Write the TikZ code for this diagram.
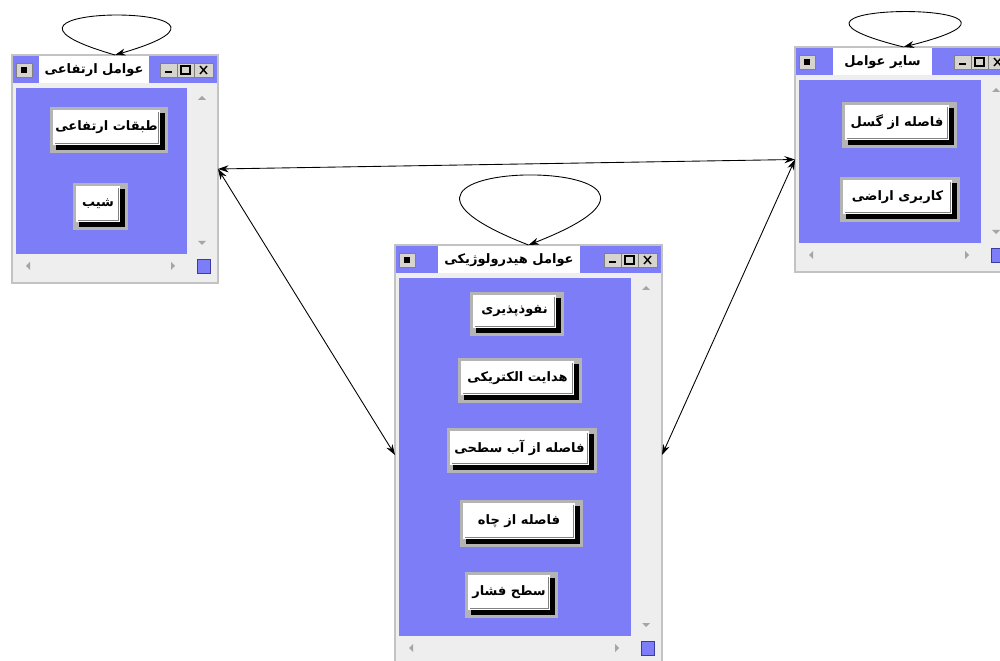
\documentclass[tikz,border=0pt]{standalone}
\usepackage{fontspec}
\newfontfamily\fa[Script=Arabic]{DejaVu Sans}
\TeXXeTstate=1
\usetikzlibrary{arrows.meta,calc}
\definecolor{winblue}{RGB}{125,126,247}
\definecolor{framegray}{RGB}{195,195,195}
\definecolor{scrollbg}{RGB}{238,238,238}
\definecolor{btnbord}{RGB}{180,180,180}
\definecolor{ctlgray}{RGB}{215,212,205}
\definecolor{trigray}{RGB}{165,165,165}
\definecolor{darkblue}{RGB}{60,60,160}
\tikzset{
  lbl/.style={font=\fa\bfseries\fontsize{7.4}{9}\selectfont, inner sep=0pt, text=black},
  winframe/.style={draw=framegray, fill=scrollbg, line width=1.2pt, outer sep=0pt, inner sep=0pt, anchor=north west},
  conn/.style={{Stealth[length=6pt,width=4pt]}-{Stealth[length=6pt,width=4pt]}, line width=0.5pt},
  loopc/.style={-{Stealth[length=6pt,width=4pt]}, line width=0.5pt},
  ctl/.style={fill=ctlgray, draw=gray, line width=0.4pt},
}
% window: name, x1, y1, x2, y2, title x1, title x2, title
\newcommand\pwindow[8]{%
  \node[winframe, minimum width={(#4-#2)*0.02cm}, minimum height={(#5-#3)*0.02cm}] (#1) at (#2,#3) {};
  \fill[winblue] ({#2+1},{#3+1}) rectangle ({#4-1},{#3+28});
  \fill[ctl] ({#2+4},{#3+8}) rectangle ({#2+20},{#3+22});
  \fill[black] ({#2+9},{#3+12}) rectangle ({#2+15},{#3+18});
  \fill[white] (#6,{#3+1}) rectangle (#7,{#3+28});
  \node[lbl] (#1t) at ({(#6+#7)/2},{#3+15}) {#8};
  \filldraw[ctl] ({#4-58},{#3+8}) rectangle ({#4-41},{#3+22});
  \filldraw[ctl] ({#4-41},{#3+8}) rectangle ({#4-24},{#3+22});
  \filldraw[ctl] ({#4-24},{#3+8}) rectangle ({#4-5},{#3+22});
  \fill[black] ({#4-53},{#3+16}) rectangle ({#4-46},{#3+18});
  \draw[black, line width=0.6pt] ({#4-37},{#3+11}) rectangle ({#4-28},{#3+19});
  \draw[black, line width=1pt] ({#4-37},{#3+11.5}) -- ({#4-28},{#3+11.5});
  \draw[black, line width=0.8pt] ({#4-18},{#3+11}) -- ({#4-11},{#3+19}) ({#4-18},{#3+19}) -- ({#4-11},{#3+11});
  \fill[winblue] ({#2+4},{#3+33}) rectangle ({#4-31},{#5-29});
  \fill[trigray] ({#4-20},{#3+45}) -- ({#4-12},{#3+45}) -- ({#4-16},{#3+41}) -- cycle;
  \fill[trigray] ({#4-20},{#5-42}) -- ({#4-12},{#5-42}) -- ({#4-16},{#5-38}) -- cycle;
  \fill[trigray] ({#2+18},{#5-21}) -- ({#2+18},{#5-13}) -- ({#2+14},{#5-17}) -- cycle;
  \fill[trigray] ({#4-47},{#5-21}) -- ({#4-47},{#5-13}) -- ({#4-43},{#5-17}) -- cycle;
  \filldraw[fill=winblue, draw=darkblue, line width=0.4pt] ({#4-21},{#5-24}) rectangle ({#4-8},{#5-10});
}
% button: name, x1, y1, x2, y2, text
\newcommand\pbutton[6]{%
  \fill[btnbord] (#2,#3) rectangle (#4,#5);
  \fill[black] ({#2+6},{#3+6}) rectangle ({#4-3},{#5-3});
  \fill[white] ({#2+3},{#3+3}) rectangle ({#4-8},{#5-8});
  \draw[gray, line width=0.5pt] ({#4-10},{#3+5}) -- ({#4-10},{#5-10}) -- ({#2+5},{#5-10});
  \node[lbl] (#1) at ({(#2+#4)/2-2.5},{(#3+#5)/2-2.5}) {#6};
}
\begin{document}
\begin{tikzpicture}[x=0.02cm,y=-0.02cm]
\clip (0,0) rectangle (1000,661);
\fill[white] (0,0) rectangle (1000,661);
\useasboundingbox (0,0) rectangle (1000,661);

\pwindow{w1}{12}{55}{218}{283}{39}{149}{\beginR عوامل ارتفاعی\endR}
\pbutton{b11}{50}{107}{168}{153}{\beginR طبقات ارتفاعی\endR}
\pbutton{b12}{73}{183}{128}{230}{\beginR شیب\endR}

\pwindow{w2}{795}{47}{1012}{272}{833}{932}{\beginR سایر عوامل\endR}
\pbutton{b21}{842}{102}{957}{148}{\beginR فاصله از گسل\endR}
\pbutton{b22}{840}{177}{960}{222}{\beginR کاربری اراضی\endR}

\pwindow{w3}{395}{245}{662}{665}{438}{580}{\beginR عوامل هیدرولوژیکی\endR}
\pbutton{b31}{470}{292}{564}{336}{\beginR نفوذپذیری\endR}
\pbutton{b32}{458}{358}{582}{403}{\beginR هدایت الکتریکی\endR}
\pbutton{b33}{447}{428}{597}{473}{\beginR فاصله از آب سطحی\endR}
\pbutton{b34}{460}{500}{583}{547}{\beginR فاصله از چاه\endR}
\pbutton{b35}{465}{572}{558}{618}{\beginR سطح فشار\endR}

\draw[loopc] (w1.north) .. controls +(-183,-53) and +(183,-53) .. (w1.north);
\draw[loopc] (w2.north) .. controls +(-189,-47) and +(189,-47) .. (w2.north);
\draw[loopc] (w3.north) .. controls +(-239,-93) and +(239,-93) .. (w3.north);

\draw[conn] (w1.east) -- (w2.west);
\draw[conn] (w1.east) -- (w3.west);
\draw[conn] (w2.west) -- (w3.east);
\end{tikzpicture}
\end{document}
